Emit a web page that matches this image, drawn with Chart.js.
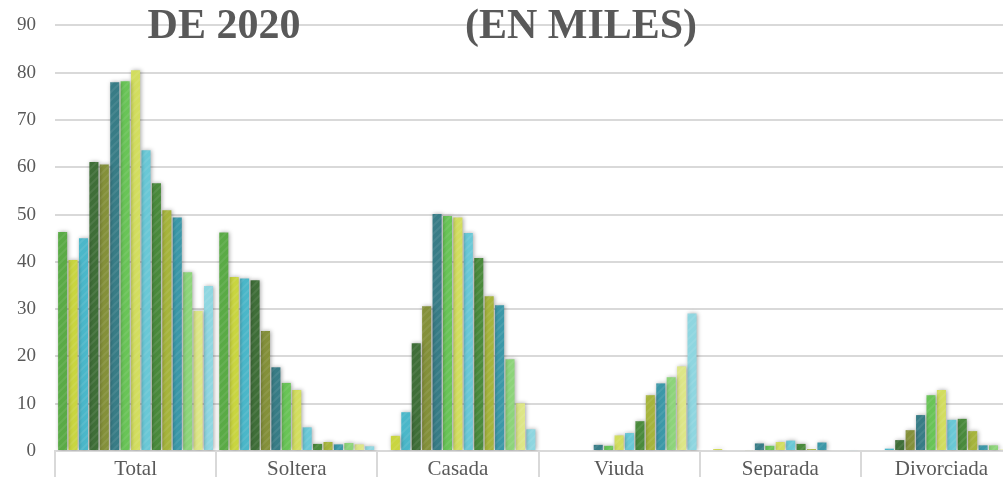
<!DOCTYPE html>
<html>
<head>
<meta charset="utf-8">
<script src="https://cdn.jsdelivr.net/npm/chart.js@4.4.1/dist/chart.umd.min.js"></script>
<style>
  html, body { margin: 0; padding: 0; background: #fff; overflow: hidden; }
  #wrap { position: relative; top: -5px; width: 1030px; height: 505px; }
</style>
</head>
<body>
<div id="wrap"><canvas id="grafico" width="1030" height="505"></canvas></div>
<script>
const categorias = ['Total', 'Soltera', 'Casada', 'Viuda', 'Separada', 'Divorciada'];
const gruposEdad = ['15 a 19', '20 a 24', '25 a 29', '30 a 34', '35 a 39', '40 a 44', '45 a 49',
  '50 a 54', '55 a 59', '60 a 64', '65 a 69', '70 a 74', '75 a 79', '80 a 84', '85 y más'];

// valores en miles, un arreglo por estado civil (15 grupos de edad)
const total      = [46.3, 40.4, 45.0, 61.1, 60.6, 78.0, 78.2, 80.5, 63.6, 56.6, 50.9, 49.4, 37.8, 29.6, 34.9];
const soltera    = [46.2, 36.8, 36.5, 36.1, 25.4, 17.7, 14.4, 12.9, 5.0, 1.5, 1.9, 1.4, 1.7, 1.4, 1.0];
const casada     = [0, 3.2, 8.2, 22.8, 30.6, 50.1, 49.7, 49.4, 46.1, 40.8, 32.7, 30.8, 19.4, 10.1, 4.6];
const viuda      = [0, 0, 0, 0, 0, 1.3, 1.1, 3.3, 3.8, 6.3, 11.8, 14.3, 15.6, 17.9, 29.1];
const separada   = [0, 0.4, 0, 0, 0.2, 1.6, 1.1, 1.9, 2.2, 1.5, 0.4, 1.8, 0, 0, 0.2];
const divorciada = [0, 0, 0.5, 2.3, 4.4, 7.6, 11.8, 12.9, 6.6, 6.8, 4.2, 1.2, 1.2, 0.3, 0.3];

const yTicks = [0, 10, 20, 30, 40, 50, 60, 70, 80, 90];

const colores = ['#5aaa46', '#c9d540', '#4bb7c9', '#3f6e38', '#84903a', '#387c86', '#69c457',
  '#d2dd5f', '#6ac8d6', '#4a8a3c', '#a6b43c', '#3c98a8', '#8dd47a', '#dde687', '#8fd6e0'];

const porCategoria = [total, soltera, casada, viuda, separada, divorciada];

// relleno con rayas diagonales muy suaves
function rayado(color) {
  const c = document.createElement('canvas');
  c.width = 8; c.height = 8;
  const x = c.getContext('2d');
  x.fillStyle = color;
  x.fillRect(0, 0, 8, 8);
  x.strokeStyle = 'rgba(255,255,255,0.08)';
  x.lineWidth = 2;
  x.beginPath();
  x.moveTo(-2, 2); x.lineTo(2, -2);
  x.moveTo(0, 8); x.lineTo(8, 0);
  x.moveTo(6, 10); x.lineTo(10, 6);
  x.stroke();
  return x.createPattern(c, 'repeat');
}

const datasets = gruposEdad.map((g, i) => ({
  label: g,
  data: porCategoria.map(arr => arr[i]),
  backgroundColor: rayado(colores[i]),
  borderWidth: 0,
  categoryPercentage: 0.97,
  barPercentage: 0.87
}));

const sombra = {
  id: 'sombra',
  beforeDatasetsDraw(chart) {
    const ctx = chart.ctx;
    ctx.save();
    ctx.shadowColor = 'rgba(0,0,0,0.35)';
    ctx.shadowBlur = 4;
    ctx.shadowOffsetX = 1;
    ctx.shadowOffsetY = 0;
  },
  afterDatasetsDraw(chart) {
    chart.ctx.restore();
  }
};

const titulo = {
  id: 'titulo',
  afterDraw(chart) {
    const ctx = chart.ctx;
    ctx.save();
    ctx.fillStyle = '#595959';
    ctx.font = 'bold 42px "Liberation Serif", serif';
    ctx.textAlign = 'center';
    ctx.textBaseline = 'alphabetic';
    ctx.fillText('DE 2020', 224, 43);
    ctx.fillText('(EN MILES)', 581, 43);
    ctx.restore();
  }
};

new Chart(document.getElementById('grafico'), {
  type: 'bar',
  data: { labels: categorias, datasets },
  options: {
    responsive: false,
    animation: false,
    layout: { padding: { top: 15, right: 8, left: 0, bottom: 0 } },
    plugins: {
      legend: { display: false },
      tooltip: { enabled: false }
    },
    scales: {
      x: {
        grid: {
          offset: true,
          drawOnChartArea: false,
          drawTicks: true,
          tickLength: 40,
          color: '#d9d9d9',
          lineWidth: 2
        },
        border: { display: true, color: '#d9d9d9', width: 2 },
        ticks: {
          padding: -34,
          color: '#595959',
          font: { family: '"Liberation Serif", serif', size: 21 }
        },
        afterFit(s) { s.height = 49; }
      },
      y: {
        min: 0,
        max: 90,
        afterBuildTicks(s) { s.ticks = yTicks.map(v => ({ value: v })); },
        grid: { color: '#d9d9d9', lineWidth: 2, drawTicks: false },
        border: { display: false },
        ticks: {
          padding: 19,
          color: '#595959',
          font: { family: '"Liberation Serif", serif', size: 19 }
        },
        afterFit(s) { s.width = 55; }
      }
    }
  },
  plugins: [sombra, titulo]
});
</script>
</body>
</html>
